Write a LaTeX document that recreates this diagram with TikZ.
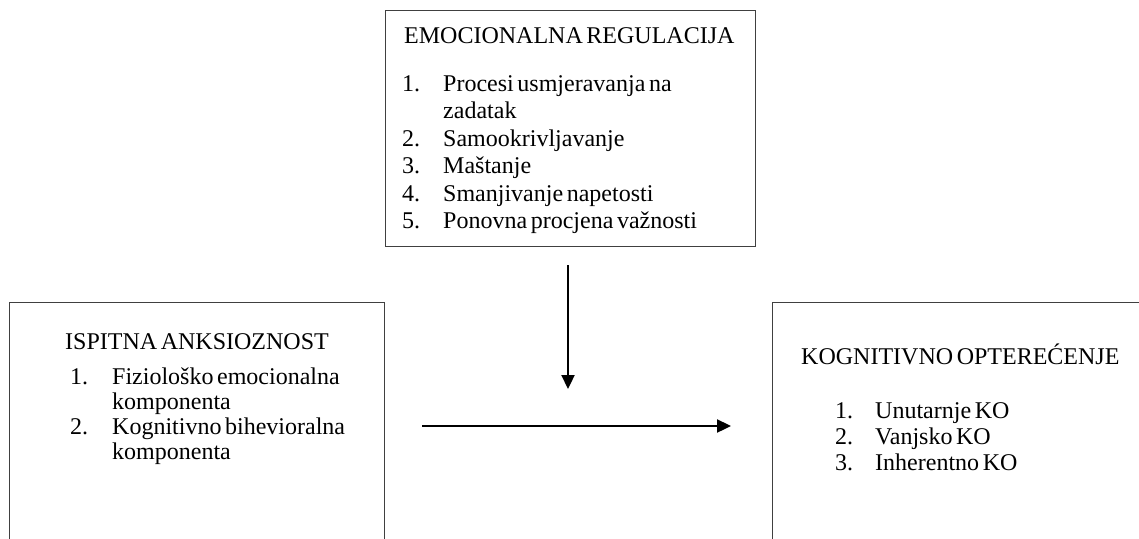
\documentclass[tikz,border=0pt]{standalone}
\usepackage{fontspec}
\setmainfont{Liberation Serif}[WordSpace=0.6]
\usetikzlibrary{arrows.meta}
\begin{document}
\begin{tikzpicture}[x=1pt,y=-1pt,
  box/.style={draw=black!75,line width=1.3pt,inner sep=0pt,anchor=north west},
  txt/.style={anchor=base west,inner sep=0pt,font=\fontsize{24}{27}\selectfont},
  conn/.style={line width=2.3pt,-{Triangle[length=14pt,width=13pt]}}]
\useasboundingbox (0,0) rectangle (1139,538);
\clip (0,0) rectangle (1139,538);
% boxes
\node[box,minimum width=370pt,minimum height=236pt] (er) at (385,10) {};
\node[box,minimum width=375pt,minimum height=260pt] (ia) at (9,302) {};
\node[box,minimum width=380pt,minimum height=260pt] (ko) at (772,302) {};
% top box text
\node[txt] (ert) at (404,43) {EMOCIONALNA REGULACIJA};
\node[txt] (ern1) at (402,91) {1.};
\node[txt] (er1) at (443,91) {Procesi usmjeravanja na};
\node[txt] (er1b) at (443,118) {zadatak};
\node[txt] (ern2) at (402,146) {2.};
\node[txt] (er2) at (443,146) {Samookrivljavanje};
\node[txt] (ern3) at (402,173) {3.};
\node[txt] (er3) at (443,173) {Maštanje};
\node[txt] (ern4) at (402,201) {4.};
\node[txt] (er4) at (443,201) {Smanjivanje napetosti};
\node[txt] (ern5) at (402,228) {5.};
\node[txt] (er5) at (443,228) {Ponovna procjena važnosti};
% left box text
\node[txt] (iat) at (65,349) {ISPITNA ANKSIOZNOST};
\node[txt] (ian1) at (70,384) {1.};
\node[txt] (ia1) at (112,384) {Fiziološko emocionalna};
\node[txt] (ia1b) at (112,409) {komponenta};
\node[txt] (ian2) at (70,434) {2.};
\node[txt] (ia2) at (112,434) {Kognitivno bihevioralna};
\node[txt] (ia2b) at (112,459) {komponenta};
% right box text
\node[txt] (kot) at (801,364) {KOGNITIVNO OPTEREĆENJE};
\node[txt] (kon1) at (835,418) {1.};
\node[txt] (ko1) at (875,418) {Unutarnje KO};
\node[txt] (kon2) at (835,444) {2.};
\node[txt] (ko2) at (875,444) {Vanjsko KO};
\node[txt] (kon3) at (835,470) {3.};
\node[txt] (ko3) at (875,470) {Inherentno KO};
% connectors
\coordinate (vs) at ([yshift=-18pt]er.south -| 568,0);
\coordinate (ve) at (568,389);
\coordinate (hs) at ([xshift=37pt]ia.east |- 0,426);
\coordinate (he) at (731,426);
\draw[conn] (vs) -- (ve);
\draw[conn] (hs) -- (he);
\end{tikzpicture}
\end{document}
